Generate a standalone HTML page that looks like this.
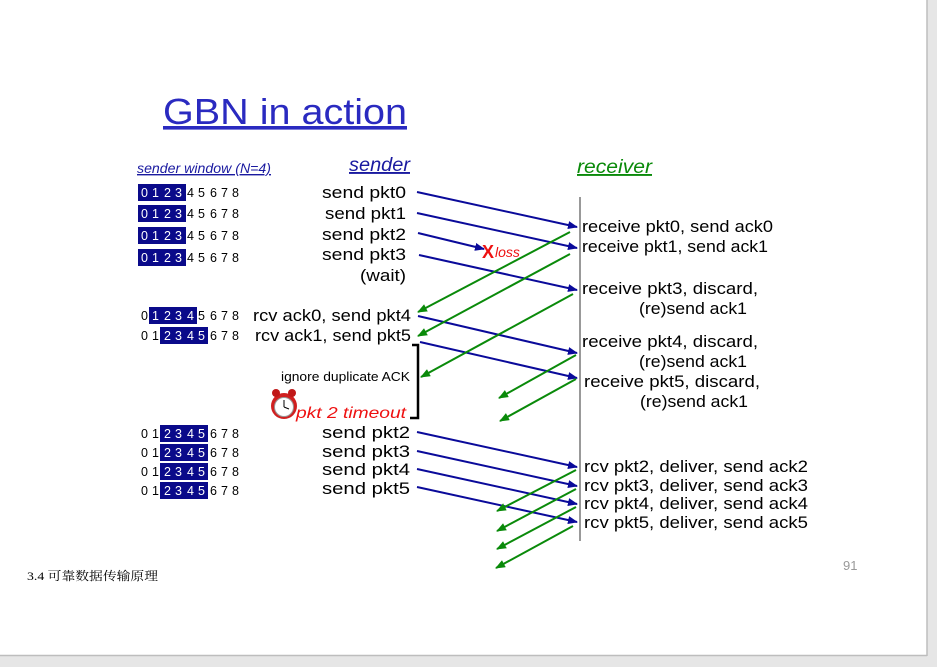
<!DOCTYPE html>
<html><head><meta charset="utf-8"><style>
html,body{margin:0;padding:0;background:#e6e6e6;}
svg{display:block;}
</style></head><body>
<svg width="937" height="667" viewBox="0 0 937 667" xmlns="http://www.w3.org/2000/svg" font-family="Liberation Sans, sans-serif">
<defs>
<marker id="ab" markerWidth="10" markerHeight="8" refX="9" refY="4" orient="auto" markerUnits="userSpaceOnUse"><path d="M0,0 L10,4 L0,8 z" fill="#0a0a9a"/></marker>
<marker id="ag" markerWidth="10" markerHeight="8" refX="9" refY="4" orient="auto" markerUnits="userSpaceOnUse"><path d="M0,0 L10,4 L0,8 z" fill="#0a8a0a"/></marker>
</defs>
<rect x="0" y="0" width="927" height="655" fill="#fff"/>
<line x1="927" y1="0" x2="927" y2="656" stroke="#bdbdbd" stroke-width="1.5"/>
<line x1="0" y1="655.5" x2="927" y2="655.5" stroke="#bdbdbd" stroke-width="1.5"/>

<text x="163" y="124" font-size="36" fill="#2a2ac0" text-decoration="underline" textLength="244" lengthAdjust="spacingAndGlyphs">GBN in action</text>
<text x="137" y="173" font-size="14" font-style="italic" fill="#1a1aa0" text-decoration="underline" textLength="134" lengthAdjust="spacingAndGlyphs">sender window (N=4)</text>
<text x="349" y="171" font-size="19" font-style="italic" fill="#1a1aa0" text-decoration="underline" textLength="61" lengthAdjust="spacingAndGlyphs">sender</text>
<text x="577" y="173" font-size="19" font-style="italic" fill="#0a8a0a" text-decoration="underline" textLength="75" lengthAdjust="spacingAndGlyphs">receiver</text>

<g fill="#0a0a8a">
<rect x="138" y="184" width="48" height="17"/><rect x="138" y="205" width="48" height="17"/>
<rect x="138" y="227" width="48" height="17"/><rect x="138" y="249" width="48" height="17"/>
<rect x="149" y="307" width="48" height="17"/><rect x="160" y="327" width="48" height="17"/>
<rect x="160" y="425" width="48" height="17"/><rect x="160" y="444" width="48" height="17"/>
<rect x="160" y="463" width="48" height="17"/><rect x="160" y="482" width="48" height="17"/>
</g>
<g font-size="12.5">
<text y="197"><tspan fill="#fff" x="141 152 164 175">0123</tspan><tspan x="187 198 210 221 232" fill="#000">45678</tspan></text>
<text y="218"><tspan fill="#fff" x="141 152 164 175">0123</tspan><tspan x="187 198 210 221 232" fill="#000">45678</tspan></text>
<text y="240"><tspan fill="#fff" x="141 152 164 175">0123</tspan><tspan x="187 198 210 221 232" fill="#000">45678</tspan></text>
<text y="262"><tspan fill="#fff" x="141 152 164 175">0123</tspan><tspan x="187 198 210 221 232" fill="#000">45678</tspan></text>
<text y="320"><tspan x="141" fill="#000">0</tspan><tspan fill="#fff" x="152 164 175 187">1234</tspan><tspan x="198 210 221 232" fill="#000">5678</tspan></text>
<text y="340"><tspan x="141 152" fill="#000">01</tspan><tspan fill="#fff" x="164 175 187 198">2345</tspan><tspan x="210 221 232" fill="#000">678</tspan></text>
<text y="438"><tspan x="141 152" fill="#000">01</tspan><tspan fill="#fff" x="164 175 187 198">2345</tspan><tspan x="210 221 232" fill="#000">678</tspan></text>
<text y="457"><tspan x="141 152" fill="#000">01</tspan><tspan fill="#fff" x="164 175 187 198">2345</tspan><tspan x="210 221 232" fill="#000">678</tspan></text>
<text y="476"><tspan x="141 152" fill="#000">01</tspan><tspan fill="#fff" x="164 175 187 198">2345</tspan><tspan x="210 221 232" fill="#000">678</tspan></text>
<text y="495"><tspan x="141 152" fill="#000">01</tspan><tspan fill="#fff" x="164 175 187 198">2345</tspan><tspan x="210 221 232" fill="#000">678</tspan></text>
</g>

<g font-size="16.5" fill="#000">
<text x="322" y="198" textLength="84" lengthAdjust="spacingAndGlyphs">send  pkt0</text>
<text x="325" y="219" textLength="81" lengthAdjust="spacingAndGlyphs">send  pkt1</text>
<text x="322" y="240" textLength="84" lengthAdjust="spacingAndGlyphs">send  pkt2</text>
<text x="322" y="260" textLength="84" lengthAdjust="spacingAndGlyphs">send  pkt3</text>
<text x="360" y="281" textLength="46" lengthAdjust="spacingAndGlyphs">(wait)</text>
<text x="253" y="321" textLength="158" lengthAdjust="spacingAndGlyphs">rcv ack0, send pkt4</text>
<text x="255" y="341" textLength="156" lengthAdjust="spacingAndGlyphs">rcv ack1, send pkt5</text>
<text x="322" y="438" textLength="88" lengthAdjust="spacingAndGlyphs">send  pkt2</text>
<text x="322" y="457" textLength="88" lengthAdjust="spacingAndGlyphs">send  pkt3</text>
<text x="322" y="475" textLength="88" lengthAdjust="spacingAndGlyphs">send  pkt4</text>
<text x="322" y="494" textLength="88" lengthAdjust="spacingAndGlyphs">send  pkt5</text>
</g>
<text x="281" y="381" font-size="12.5" textLength="129" lengthAdjust="spacingAndGlyphs">ignore duplicate ACK</text>
<text x="296" y="418" font-size="16" font-style="italic" fill="#ee1111" textLength="110" lengthAdjust="spacingAndGlyphs">pkt 2 timeout</text>
<g>
<circle cx="284" cy="406" r="13" fill="#d02020"/>
<circle cx="284" cy="407" r="9.5" fill="#fff" stroke="#999"/>
<line x1="284" y1="407" x2="284" y2="400" stroke="#000"/><line x1="284" y1="407" x2="289" y2="409" stroke="#000"/>
<circle cx="276" cy="393" r="4" fill="#c01818"/><circle cx="292" cy="393" r="4" fill="#c01818"/>
</g>
<path d="M412,345 H418 V418 H410" fill="none" stroke="#000" stroke-width="2.5"/>

<line x1="580" y1="197" x2="580" y2="541" stroke="#333" stroke-width="1"/>

<g stroke="#0a0a9a" stroke-width="2" marker-end="url(#ab)">
<line x1="417" y1="192" x2="577" y2="227"/>
<line x1="417" y1="213" x2="577" y2="248"/>
<line x1="418" y1="233" x2="484" y2="249"/>
<line x1="419" y1="255" x2="577" y2="290"/>
<line x1="418" y1="316" x2="577" y2="353"/>
<line x1="420" y1="342" x2="577" y2="378"/>
<line x1="417" y1="432" x2="577" y2="467"/>
<line x1="417" y1="451" x2="577" y2="486"/>
<line x1="417" y1="469" x2="577" y2="504"/>
<line x1="417" y1="487" x2="577" y2="522"/>
</g>
<g stroke="#0a8a0a" stroke-width="2" marker-end="url(#ag)">
<line x1="570" y1="232" x2="418" y2="312"/>
<line x1="570" y1="254" x2="418" y2="336"/>
<line x1="573" y1="294" x2="421" y2="377"/>
<line x1="576" y1="355" x2="499" y2="398"/>
<line x1="576" y1="379" x2="500" y2="421"/>
<line x1="576" y1="470" x2="497" y2="511"/>
<line x1="576" y1="489" x2="497" y2="531"/>
<line x1="576" y1="507" x2="497" y2="549"/>
<line x1="573" y1="526" x2="496" y2="568"/>
</g>
<text x="482" y="258" font-size="18" fill="#ee1111" font-weight="bold">X</text>
<text x="495" y="257" font-size="14" font-style="italic" fill="#ee1111">loss</text>

<g font-size="16.5" fill="#000">
<text x="582" y="232" textLength="191" lengthAdjust="spacingAndGlyphs">receive pkt0, send ack0</text>
<text x="582" y="252" textLength="186" lengthAdjust="spacingAndGlyphs">receive pkt1, send ack1</text>
<text x="582" y="294" textLength="176" lengthAdjust="spacingAndGlyphs">receive pkt3, discard,</text>
<text x="639" y="314" textLength="108" lengthAdjust="spacingAndGlyphs">(re)send ack1</text>
<text x="582" y="347" textLength="176" lengthAdjust="spacingAndGlyphs">receive pkt4, discard,</text>
<text x="639" y="367" textLength="108" lengthAdjust="spacingAndGlyphs">(re)send ack1</text>
<text x="584" y="387" textLength="176" lengthAdjust="spacingAndGlyphs">receive pkt5, discard,</text>
<text x="640" y="407" textLength="108" lengthAdjust="spacingAndGlyphs">(re)send ack1</text>
<text x="584" y="472" textLength="224" lengthAdjust="spacingAndGlyphs">rcv pkt2, deliver, send ack2</text>
<text x="584" y="491" textLength="224" lengthAdjust="spacingAndGlyphs">rcv pkt3, deliver, send ack3</text>
<text x="584" y="509" textLength="224" lengthAdjust="spacingAndGlyphs">rcv pkt4, deliver, send ack4</text>
<text x="584" y="528" textLength="224" lengthAdjust="spacingAndGlyphs">rcv pkt5, deliver, send ack5</text>
</g>

<text x="843" y="570" font-size="13" fill="#999">91</text>
<text x="27" y="580" font-size="12" fill="#000" font-family="Liberation Serif, Noto Serif CJK SC, serif" textLength="131" lengthAdjust="spacingAndGlyphs">3.4  可靠数据传输原理</text>
</svg>
</body></html>
